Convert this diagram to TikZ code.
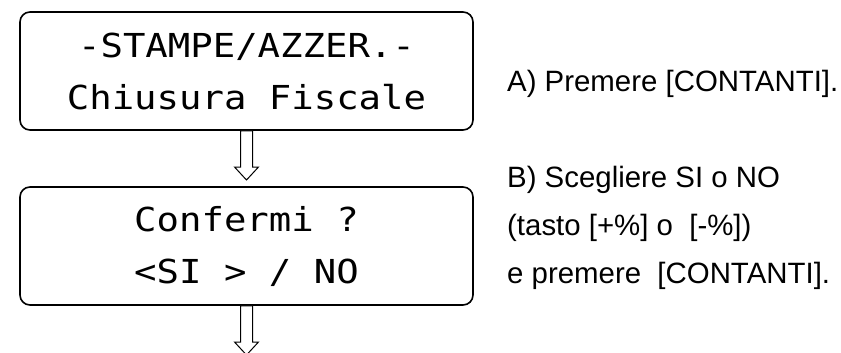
\documentclass[tikz,border=0pt]{standalone}
\usepackage{fontspec}
\setmainfont{Liberation Sans}
\newfontfamily\lcdfont[FakeStretch=1.13]{DejaVu Sans Mono}
\usetikzlibrary{calc}
\tikzset{display/.style={draw=black,line width=1.6pt,rounded corners=10pt,minimum width=453pt,
  minimum height=118pt,inner sep=0pt,align=center,font=\lcdfont\fontsize{33}{52}\selectfont},
 note/.style={anchor=base west,inner sep=0pt,align=left,font=\fontsize{29.4}{48}\selectfont},
 hollow/.style={draw=black,fill=white,line width=1pt,line join=miter}}
\newcommand{\hollowarrow}[2]{% from, to
 \draw[hollow] let \p1=(#1),\p2=(#2) in
  (\x1-6pt,\y1)--(\x1-6pt,\y2+13pt)--(\x1-12pt,\y2+13pt)--(\x1,\y2)
  --(\x1+12pt,\y2+13pt)--(\x1+6pt,\y2+13pt)--(\x1+6pt,\y1)--cycle;
}

\begin{document}
\begin{tikzpicture}[x=1pt,y=-1pt]
 \useasboundingbox (0,0) rectangle (841,353);
 \node[display] (menu) at (246.5,71) {-STAMPE/AZZER.-\\Chiusura Fiscale};
 \node[display] (confirm) at (246.5,246) {Confermi ?\\<SI > / NO};
 \coordinate (tip1) at (246.5,180);
 \coordinate (tip2) at (246.5,355);
 \hollowarrow{menu.south}{tip1}
 \hollowarrow{confirm.south}{tip2}
 \node[note] (stepA) at (507,92) {A) Premere [CONTANTI].};
 % base of a multi-line node is its last line
 \node[note] (stepB) at (507,283) {B) Scegliere SI o NO\\(tasto [+\%] o \ [-\%])\\e premere \ [CONTANTI].};
\end{tikzpicture}
\end{document}
